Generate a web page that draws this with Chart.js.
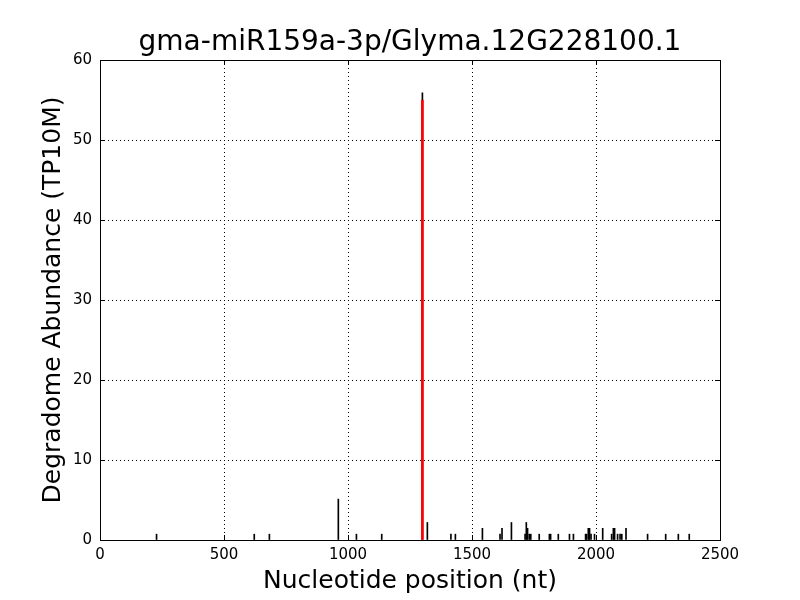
<!DOCTYPE html>
<html>
<head>
<meta charset="utf-8">
<script src="https://cdn.jsdelivr.net/npm/chart.js@4"></script>
<style>
  html, body { margin: 0; padding: 0; background: #fff; }
  #wrap { width: 800px; height: 600px; }
</style>
</head>
<body>
<div id="wrap"><canvas id="c" width="800" height="600"></canvas></div>
<script>
const titleText = "gma-miR159a-3p/Glyma.12G228100.1";
const xLabel = "Nucleotide position (nt)";
const yLabel = "Degradome Abundance (TP10M)";
const xTicks = [0, 500, 1000, 1500, 2000, 2500];
const yTicks = [0, 10, 20, 30, 40, 50, 60];

// Degradome read positions and abundances (TP10M)
const positions = [228, 622, 683, 961, 1034, 1136, 1300, 1320, 1415, 1433, 1542, 1613, 1621, 1659,
  1714, 1719, 1724, 1731, 1737, 1771, 1812, 1817, 1848, 1893, 1909, 1958, 1962, 1969, 1974, 1980,
  1994, 2027, 2063, 2070, 2075, 2087, 2097, 2104, 2121, 2208, 2281, 2332, 2376];
const abundance = [0.73, 0.73, 0.73, 5.11, 0.73, 0.73, 55.9, 2.19, 0.73, 0.73, 1.46, 0.73, 1.46, 2.19,
  0.73, 2.19, 1.46, 0.73, 0.73, 0.73, 0.73, 0.73, 0.73, 0.73, 0.73, 0.73, 0.73, 1.46, 1.46, 0.73,
  0.73, 1.46, 0.73, 1.46, 1.46, 0.73, 0.73, 0.73, 1.46, 0.73, 0.73, 0.73, 0.73];

// miRNA cleavage site marker
const sitePositions = [1300];
const siteValues = [55];

const FONT = "'DejaVu Sans', sans-serif";

const framePlugin = {
  id: 'frame',
  afterDraw(chart) {
    const ctx = chart.ctx;
    const a = chart.chartArea;
    const xs = chart.scales.x, ys = chart.scales.y;
    ctx.save();
    ctx.strokeStyle = '#000';
    ctx.lineWidth = 1;
    ctx.setLineDash([]);
    // inward ticks
    ctx.beginPath();
    const L = 5;
    xTicks.forEach(v => {
      const px = Math.round(xs.getPixelForValue(v)) + 0.5;
      ctx.moveTo(px, a.bottom); ctx.lineTo(px, a.bottom - L);
      ctx.moveTo(px, a.top); ctx.lineTo(px, a.top + L);
    });
    yTicks.forEach(v => {
      const py = Math.round(ys.getPixelForValue(v)) + 0.5;
      ctx.moveTo(a.left, py); ctx.lineTo(a.left + L, py);
      ctx.moveTo(a.right, py); ctx.lineTo(a.right - L, py);
    });
    ctx.stroke();
    ctx.strokeRect(Math.round(a.left) + 0.5, Math.round(a.top) + 0.5,
      Math.round(a.right - a.left), Math.round(a.bottom - a.top));
    // title
    ctx.fillStyle = '#000';
    ctx.font = "28px " + FONT;
    ctx.textAlign = 'center';
    ctx.textBaseline = 'middle';
    ctx.fillText(titleText, (a.left + a.right) / 2, 43);
    ctx.restore();
  }
};

new Chart(document.getElementById('c'), {
  type: 'bar',
  data: {
    datasets: [
      {
        label: 'site',
        data: sitePositions.map((p, i) => ({ x: p, y: siteValues[i] })),
        backgroundColor: '#ff0000',
        borderWidth: 0,
        barThickness: 2,
        grouped: false
      },
      {
        label: 'reads',
        data: positions.map((p, i) => ({ x: p, y: abundance[i] })),
        backgroundColor: '#000000',
        borderWidth: 0,
        barThickness: 1,
        grouped: false
      }
    ]
  },
  options: {
    responsive: false,
    animation: false,
    devicePixelRatio: 1,
    layout: { padding: { left: 38, right: 80, top: 60, bottom: 4 } },
    plugins: {
      legend: { display: false },
      tooltip: { enabled: false },
      title: { display: false }
    },
    scales: {
      x: {
        type: 'linear',
        min: 0, max: 2500,
        offset: false,
        afterFit(s) { s.height = 56; },
        grid: { color: '#000', lineWidth: 1, drawTicks: false, offset: false },
        border: { display: false, dash: [1, 3] },
        ticks: {
          stepSize: 500, autoSkip: false, color: '#000',
          font: { family: FONT, size: 15 }, padding: 6, maxRotation: 0,
          callback: v => String(v)
        },
        title: { display: true, text: xLabel, color: '#000', font: { family: FONT, size: 25 }, padding: 0 }
      },
      y: {
        min: 0, max: 60,
        afterFit(s) { s.width = 62; },
        grid: { color: '#000', lineWidth: 1, drawTicks: false },
        border: { display: false, dash: [1, 3] },
        ticks: {
          stepSize: 10, autoSkip: false, color: '#000',
          font: { family: FONT, size: 15 }, padding: 8,
          callback: v => String(v)
        },
        title: { display: true, text: yLabel, color: '#000', font: { family: FONT, size: 25 }, padding: 0 }
      }
    }
  },
  plugins: [framePlugin]
});
</script>
</body>
</html>
